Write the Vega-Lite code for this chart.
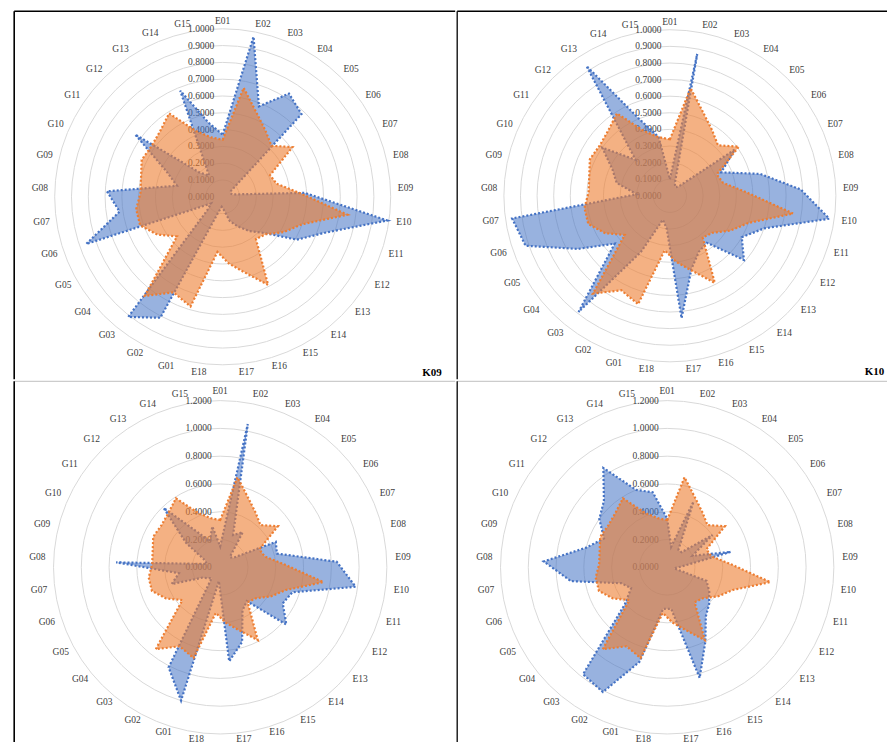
{
  "$schema": "https://vega.github.io/schema/vega-lite/v6.json",
  "padding": {"left": 13.2, "top": 10.3, "right": 0, "bottom": 0},
  "config": {"view": {"stroke": null}, "concat": {"spacing": 0}},
  "datasets": {
    "ringsTop": [{"ring":0},{"ring":0.1},{"ring":0.2},{"ring":0.3},{"ring":0.4},{"ring":0.5},{"ring":0.6},{"ring":0.7},{"ring":0.8},{"ring":0.9},{"ring":1.0}],
    "ringsBottom": [{"ring":0},{"ring":0.2},{"ring":0.4},{"ring":0.6},{"ring":0.8},{"ring":1.0},{"ring":1.2}],
    "panels": [{"panel":"K09"},{"panel":"K10"},{"panel":"K11"},{"panel":"K12"}],
    "scores": [
      {"panel":"K09","item":"E01","score":0.37,"benchmark":0.34},
      {"panel":"K09","item":"E02","score":0.97,"benchmark":0.66},
      {"panel":"K09","item":"E03","score":0.58,"benchmark":0.54},
      {"panel":"K09","item":"E04","score":0.73,"benchmark":0.47},
      {"panel":"K09","item":"E05","score":0.68,"benchmark":0.42},
      {"panel":"K09","item":"E06","score":0.06,"benchmark":0.51},
      {"panel":"K09","item":"E07","score":0.05,"benchmark":0.31},
      {"panel":"K09","item":"E08","score":0.06,"benchmark":0.33},
      {"panel":"K09","item":"E09","score":0.49,"benchmark":0.46},
      {"panel":"K09","item":"E10","score":0.99,"benchmark":0.75},
      {"panel":"K09","item":"E11","score":0.65,"benchmark":0.50},
      {"panel":"K09","item":"E12","score":0.51,"benchmark":0.42},
      {"panel":"K09","item":"E13","score":0.33,"benchmark":0.34},
      {"panel":"K09","item":"E14","score":0.26,"benchmark":0.32},
      {"panel":"K09","item":"E15","score":0.20,"benchmark":0.59},
      {"panel":"K09","item":"E16","score":0.15,"benchmark":0.47},
      {"panel":"K09","item":"E17","score":0.08,"benchmark":0.40},
      {"panel":"K09","item":"E18","score":0.06,"benchmark":0.33},
      {"panel":"K09","item":"G01","score":0.10,"benchmark":0.68},
      {"panel":"K09","item":"G02","score":0.81,"benchmark":0.64},
      {"panel":"K09","item":"G03","score":0.91,"benchmark":0.75},
      {"panel":"K09","item":"G04","score":0.12,"benchmark":0.36},
      {"panel":"K09","item":"G05","score":0.08,"benchmark":0.45},
      {"panel":"K09","item":"G06","score":0.86,"benchmark":0.52},
      {"panel":"K09","item":"G07","score":0.62,"benchmark":0.52},
      {"panel":"K09","item":"G08","score":0.69,"benchmark":0.49},
      {"panel":"K09","item":"G09","score":0.28,"benchmark":0.50},
      {"panel":"K09","item":"G10","score":0.37,"benchmark":0.53},
      {"panel":"K09","item":"G11","score":0.64,"benchmark":0.52},
      {"panel":"K09","item":"G12","score":0.20,"benchmark":0.54},
      {"panel":"K09","item":"G13","score":0.15,"benchmark":0.59},
      {"panel":"K09","item":"G14","score":0.68,"benchmark":0.42},
      {"panel":"K09","item":"G15","score":0.45,"benchmark":0.36},

      {"panel":"K10","item":"E01","score":0.10,"benchmark":0.34},
      {"panel":"K10","item":"E02","score":0.87,"benchmark":0.66},
      {"panel":"K10","item":"E03","score":0.08,"benchmark":0.54},
      {"panel":"K10","item":"E04","score":0.06,"benchmark":0.47},
      {"panel":"K10","item":"E05","score":0.08,"benchmark":0.42},
      {"panel":"K10","item":"E06","score":0.48,"benchmark":0.51},
      {"panel":"K10","item":"E07","score":0.34,"benchmark":0.31},
      {"panel":"K10","item":"E08","score":0.56,"benchmark":0.33},
      {"panel":"K10","item":"E09","score":0.79,"benchmark":0.46},
      {"panel":"K10","item":"E10","score":0.97,"benchmark":0.75},
      {"panel":"K10","item":"E11","score":0.60,"benchmark":0.50},
      {"panel":"K10","item":"E12","score":0.50,"benchmark":0.42},
      {"panel":"K10","item":"E13","score":0.59,"benchmark":0.34},
      {"panel":"K10","item":"E14","score":0.36,"benchmark":0.32},
      {"panel":"K10","item":"E15","score":0.38,"benchmark":0.59},
      {"panel":"K10","item":"E16","score":0.46,"benchmark":0.47},
      {"panel":"K10","item":"E17","score":0.74,"benchmark":0.40},
      {"panel":"K10","item":"E18","score":0.20,"benchmark":0.33},
      {"panel":"K10","item":"G01","score":0.15,"benchmark":0.68},
      {"panel":"K10","item":"G02","score":0.38,"benchmark":0.64},
      {"panel":"K10","item":"G03","score":0.89,"benchmark":0.75},
      {"panel":"K10","item":"G04","score":0.44,"benchmark":0.36},
      {"panel":"K10","item":"G05","score":0.64,"benchmark":0.45},
      {"panel":"K10","item":"G06","score":0.92,"benchmark":0.52},
      {"panel":"K10","item":"G07","score":0.96,"benchmark":0.52},
      {"panel":"K10","item":"G08","score":0.20,"benchmark":0.49},
      {"panel":"K10","item":"G09","score":0.33,"benchmark":0.50},
      {"panel":"K10","item":"G10","score":0.38,"benchmark":0.53},
      {"panel":"K10","item":"G11","score":0.50,"benchmark":0.52},
      {"panel":"K10","item":"G12","score":0.30,"benchmark":0.54},
      {"panel":"K10","item":"G13","score":0.93,"benchmark":0.59},
      {"panel":"K10","item":"G14","score":0.50,"benchmark":0.42},
      {"panel":"K10","item":"G15","score":0.36,"benchmark":0.36},

      {"panel":"K11","item":"E01","score":0.15,"benchmark":0.34},
      {"panel":"K11","item":"E02","score":1.05,"benchmark":0.66},
      {"panel":"K11","item":"E03","score":0.25,"benchmark":0.54},
      {"panel":"K11","item":"E04","score":0.30,"benchmark":0.47},
      {"panel":"K11","item":"E05","score":0.10,"benchmark":0.42},
      {"panel":"K11","item":"E06","score":0.12,"benchmark":0.51},
      {"panel":"K11","item":"E07","score":0.44,"benchmark":0.31},
      {"panel":"K11","item":"E08","score":0.42,"benchmark":0.33},
      {"panel":"K11","item":"E09","score":0.84,"benchmark":0.46},
      {"panel":"K11","item":"E10","score":0.985,"benchmark":0.75},
      {"panel":"K11","item":"E11","score":0.55,"benchmark":0.50},
      {"panel":"K11","item":"E12","score":0.52,"benchmark":0.42},
      {"panel":"K11","item":"E13","score":0.63,"benchmark":0.34},
      {"panel":"K11","item":"E14","score":0.31,"benchmark":0.32},
      {"panel":"K11","item":"E15","score":0.35,"benchmark":0.59},
      {"panel":"K11","item":"E16","score":0.56,"benchmark":0.47},
      {"panel":"K11","item":"E17","score":0.68,"benchmark":0.40},
      {"panel":"K11","item":"E18","score":0.10,"benchmark":0.33},
      {"panel":"K11","item":"G01","score":1.00,"benchmark":0.68},
      {"panel":"K11","item":"G02","score":0.81,"benchmark":0.64},
      {"panel":"K11","item":"G03","score":0.10,"benchmark":0.75},
      {"panel":"K11","item":"G04","score":0.12,"benchmark":0.36},
      {"panel":"K11","item":"G05","score":0.15,"benchmark":0.45},
      {"panel":"K11","item":"G06","score":0.37,"benchmark":0.52},
      {"panel":"K11","item":"G07","score":0.30,"benchmark":0.52},
      {"panel":"K11","item":"G08","score":0.75,"benchmark":0.49},
      {"panel":"K11","item":"G09","score":0.10,"benchmark":0.50},
      {"panel":"K11","item":"G10","score":0.12,"benchmark":0.53},
      {"panel":"K11","item":"G11","score":0.30,"benchmark":0.52},
      {"panel":"K11","item":"G12","score":0.59,"benchmark":0.54},
      {"panel":"K11","item":"G13","score":0.30,"benchmark":0.59},
      {"panel":"K11","item":"G14","score":0.20,"benchmark":0.42},
      {"panel":"K11","item":"G15","score":0.30,"benchmark":0.36},

      {"panel":"K12","item":"E01","score":0.35,"benchmark":0.34},
      {"panel":"K12","item":"E02","score":0.15,"benchmark":0.66},
      {"panel":"K12","item":"E03","score":0.51,"benchmark":0.54},
      {"panel":"K12","item":"E04","score":0.15,"benchmark":0.47},
      {"panel":"K12","item":"E05","score":0.15,"benchmark":0.42},
      {"panel":"K12","item":"E06","score":0.40,"benchmark":0.51},
      {"panel":"K12","item":"E07","score":0.20,"benchmark":0.31},
      {"panel":"K12","item":"E08","score":0.47,"benchmark":0.33},
      {"panel":"K12","item":"E09","score":0.10,"benchmark":0.46},
      {"panel":"K12","item":"E10","score":0.05,"benchmark":0.75},
      {"panel":"K12","item":"E11","score":0.30,"benchmark":0.50},
      {"panel":"K12","item":"E12","score":0.35,"benchmark":0.42},
      {"panel":"K12","item":"E13","score":0.40,"benchmark":0.34},
      {"panel":"K12","item":"E14","score":0.45,"benchmark":0.32},
      {"panel":"K12","item":"E15","score":0.60,"benchmark":0.59},
      {"panel":"K12","item":"E16","score":0.83,"benchmark":0.47},
      {"panel":"K12","item":"E17","score":0.30,"benchmark":0.40},
      {"panel":"K12","item":"E18","score":0.30,"benchmark":0.33},
      {"panel":"K12","item":"G01","score":0.71,"benchmark":0.68},
      {"panel":"K12","item":"G02","score":1.01,"benchmark":0.64},
      {"panel":"K12","item":"G03","score":0.98,"benchmark":0.75},
      {"panel":"K12","item":"G04","score":0.40,"benchmark":0.36},
      {"panel":"K12","item":"G05","score":0.30,"benchmark":0.45},
      {"panel":"K12","item":"G06","score":0.35,"benchmark":0.52},
      {"panel":"K12","item":"G07","score":0.70,"benchmark":0.52},
      {"panel":"K12","item":"G08","score":0.89,"benchmark":0.49},
      {"panel":"K12","item":"G09","score":0.60,"benchmark":0.50},
      {"panel":"K12","item":"G10","score":0.50,"benchmark":0.53},
      {"panel":"K12","item":"G11","score":0.60,"benchmark":0.52},
      {"panel":"K12","item":"G12","score":0.66,"benchmark":0.54},
      {"panel":"K12","item":"G13","score":0.85,"benchmark":0.59},
      {"panel":"K12","item":"G14","score":0.60,"benchmark":0.42},
      {"panel":"K12","item":"G15","score":0.55,"benchmark":0.36}
    ]
  },
  "vconcat": [
    {
      "hconcat": [
        {
          "width": 441, "height": 368,
          "layer": [
            {
              "data": {"name": "ringsTop"},
              "mark": {"type": "point", "shape": "circle", "filled": false, "stroke": "#D9D9D9", "strokeWidth": 1, "opacity": 1},
              "encoding": {
                "x": {"datum": 0, "type": "quantitative", "scale": {"domain": [-1.24107, 1.38393], "nice": false, "zero": false}, "axis": null},
                "y": {"datum": 0, "type": "quantitative", "scale": {"domain": [-1.08631, 1.10417], "nice": false, "zero": false}, "axis": null},
                "size": {"field": "ring", "type": "quantitative", "scale": {"type": "pow", "exponent": 2, "domain": [0, 1], "range": [0, 112896]}, "legend": null}
              }
            },
            {
              "data": {"name": "ringsTop"},
              "mark": {"type": "text", "align": "right", "baseline": "middle", "dx": -8.5, "font": "Liberation Serif", "fontSize": 9.5, "fill": "#404040"},
              "encoding": {
                "x": {"datum": 0, "type": "quantitative"},
                "y": {"field": "ring", "type": "quantitative"},
                "text": {"field": "ring", "type": "quantitative", "format": ".4f"}
              }
            },
            {
              "data": {"name": "scores"},
              "transform": [
                {"filter": "datum.panel === 'K09'"},
                {"calculate": "indexof(['E01','E02','E03','E04','E05','E06','E07','E08','E09','E10','E11','E12','E13','E14','E15','E16','E17','E18','G01','G02','G03','G04','G05','G06','G07','G08','G09','G10','G11','G12','G13','G14','G15'], datum.item)", "as": "idx"},
                {"calculate": "datum.idx * 2 * PI / 33", "as": "theta"},
                {"calculate": "datum.score * sin(datum.theta)", "as": "px"},
                {"calculate": "datum.score * cos(datum.theta)", "as": "py"}
              ],
              "mark": {"type": "line", "interpolate": "linear-closed", "stroke": "#4472C4", "strokeWidth": 2.2, "strokeDash": [2, 2], "fill": "#4472C4", "fillOpacity": 0.55},
              "encoding": {
                "x": {"field": "px", "type": "quantitative"},
                "y": {"field": "py", "type": "quantitative"},
                "order": {"field": "idx", "type": "quantitative"}
              }
            },
            {
              "data": {"name": "scores"},
              "transform": [
                {"filter": "datum.panel === 'K09'"},
                {"calculate": "indexof(['E01','E02','E03','E04','E05','E06','E07','E08','E09','E10','E11','E12','E13','E14','E15','E16','E17','E18','G01','G02','G03','G04','G05','G06','G07','G08','G09','G10','G11','G12','G13','G14','G15'], datum.item)", "as": "idx"},
                {"calculate": "datum.idx * 2 * PI / 33", "as": "theta"},
                {"calculate": "datum.benchmark * sin(datum.theta)", "as": "px"},
                {"calculate": "datum.benchmark * cos(datum.theta)", "as": "py"}
              ],
              "mark": {"type": "line", "interpolate": "linear-closed", "stroke": "#ED7D31", "strokeWidth": 2.2, "strokeDash": [2, 2], "fill": "#ED7D31", "fillOpacity": 0.6},
              "encoding": {
                "x": {"field": "px", "type": "quantitative"},
                "y": {"field": "py", "type": "quantitative"},
                "order": {"field": "idx", "type": "quantitative"}
              }
            },
            {
              "data": {"name": "scores"},
              "transform": [
                {"filter": "datum.panel === 'K09'"},
                {"calculate": "indexof(['E01','E02','E03','E04','E05','E06','E07','E08','E09','E10','E11','E12','E13','E14','E15','E16','E17','E18','G01','G02','G03','G04','G05','G06','G07','G08','G09','G10','G11','G12','G13','G14','G15'], datum.item)", "as": "idx"},
                {"calculate": "datum.idx * 2 * PI / 33", "as": "theta"},
                {"calculate": "1.0476 * sin(datum.theta) + 0.0417 * (sin(datum.theta) > 0.01 ? 1 : (sin(datum.theta) < -0.01 ? -1 : 0))", "as": "lx"},
                {"calculate": "1.0476 * cos(datum.theta)", "as": "ly"}
              ],
              "mark": {"type": "text", "font": "Liberation Serif", "fontSize": 9.5, "fill": "#404040", "baseline": "middle"},
              "encoding": {
                "x": {"field": "lx", "type": "quantitative"},
                "y": {"field": "ly", "type": "quantitative"},
                "text": {"field": "item"}
              }
            },
            {
              "data": {"name": "panels"},
              "transform": [{"filter": "datum.panel === 'K09'"}],
              "mark": {"type": "rule", "stroke": "#000000", "strokeWidth": 1.4},
              "encoding": {
                "x": {"datum": -1.24107, "type": "quantitative"},
                "x2": {"datum": 1.38393},
                "y": {"datum": 1.10417, "type": "quantitative"}
              }
            },
            {
              "data": {"name": "panels"},
              "transform": [{"filter": "datum.panel === 'K09'"}],
              "mark": {"type": "rule", "stroke": "#000000", "strokeWidth": 1.6},
              "encoding": {
                "x": {"datum": -1.24107, "type": "quantitative"},
                "y": {"datum": -1.08631, "type": "quantitative"},
                "y2": {"datum": 1.10417}
              }
            },
            {
              "data": {"name": "panels"},
              "transform": [{"filter": "datum.panel === 'K09'"}],
              "mark": {"type": "text", "align": "right", "baseline": "alphabetic", "dx": -13.5, "dy": -3, "font": "Liberation Serif", "fontSize": 11, "fontWeight": "bold", "fill": "#000000"},
              "encoding": {
                "x": {"datum": 1.38393, "type": "quantitative"},
                "y": {"datum": -1.08631, "type": "quantitative"},
                "text": {"field": "panel"}
              }
            }
          ]
        },
        {
          "width": 432, "height": 368,
          "layer": [
            {
              "data": {"name": "ringsTop"},
              "mark": {"type": "point", "shape": "circle", "filled": false, "stroke": "#D9D9D9", "strokeWidth": 1, "opacity": 1},
              "encoding": {
                "x": {"datum": 0, "type": "quantitative", "scale": {"domain": [-1.28133, 1.32108], "nice": false, "zero": false}, "axis": null},
                "y": {"datum": 0, "type": "quantitative", "scale": {"domain": [-1.10542, 1.11145], "nice": false, "zero": false}, "axis": null},
                "size": {"field": "ring", "type": "quantitative", "scale": {"type": "pow", "exponent": 2, "domain": [0, 1], "range": [0, 110224]}, "legend": null}
              }
            },
            {
              "data": {"name": "ringsTop"},
              "mark": {"type": "text", "align": "right", "baseline": "middle", "dx": -8.5, "font": "Liberation Serif", "fontSize": 9.5, "fill": "#404040"},
              "encoding": {
                "x": {"datum": 0, "type": "quantitative"},
                "y": {"field": "ring", "type": "quantitative"},
                "text": {"field": "ring", "type": "quantitative", "format": ".4f"}
              }
            },
            {
              "data": {"name": "scores"},
              "transform": [
                {"filter": "datum.panel === 'K10'"},
                {"calculate": "indexof(['E01','E02','E03','E04','E05','E06','E07','E08','E09','E10','E11','E12','E13','E14','E15','E16','E17','E18','G01','G02','G03','G04','G05','G06','G07','G08','G09','G10','G11','G12','G13','G14','G15'], datum.item)", "as": "idx"},
                {"calculate": "datum.idx * 2 * PI / 33", "as": "theta"},
                {"calculate": "datum.score * sin(datum.theta)", "as": "px"},
                {"calculate": "datum.score * cos(datum.theta)", "as": "py"}
              ],
              "mark": {"type": "line", "interpolate": "linear-closed", "stroke": "#4472C4", "strokeWidth": 2.2, "strokeDash": [2, 2], "fill": "#4472C4", "fillOpacity": 0.55},
              "encoding": {
                "x": {"field": "px", "type": "quantitative"},
                "y": {"field": "py", "type": "quantitative"},
                "order": {"field": "idx", "type": "quantitative"}
              }
            },
            {
              "data": {"name": "scores"},
              "transform": [
                {"filter": "datum.panel === 'K10'"},
                {"calculate": "indexof(['E01','E02','E03','E04','E05','E06','E07','E08','E09','E10','E11','E12','E13','E14','E15','E16','E17','E18','G01','G02','G03','G04','G05','G06','G07','G08','G09','G10','G11','G12','G13','G14','G15'], datum.item)", "as": "idx"},
                {"calculate": "datum.idx * 2 * PI / 33", "as": "theta"},
                {"calculate": "datum.benchmark * sin(datum.theta)", "as": "px"},
                {"calculate": "datum.benchmark * cos(datum.theta)", "as": "py"}
              ],
              "mark": {"type": "line", "interpolate": "linear-closed", "stroke": "#ED7D31", "strokeWidth": 2.2, "strokeDash": [2, 2], "fill": "#ED7D31", "fillOpacity": 0.6},
              "encoding": {
                "x": {"field": "px", "type": "quantitative"},
                "y": {"field": "py", "type": "quantitative"},
                "order": {"field": "idx", "type": "quantitative"}
              }
            },
            {
              "data": {"name": "scores"},
              "transform": [
                {"filter": "datum.panel === 'K10'"},
                {"calculate": "indexof(['E01','E02','E03','E04','E05','E06','E07','E08','E09','E10','E11','E12','E13','E14','E15','E16','E17','E18','G01','G02','G03','G04','G05','G06','G07','G08','G09','G10','G11','G12','G13','G14','G15'], datum.item)", "as": "idx"},
                {"calculate": "datum.idx * 2 * PI / 33", "as": "theta"},
                {"calculate": "1.0482 * sin(datum.theta) + 0.0422 * (sin(datum.theta) > 0.01 ? 1 : (sin(datum.theta) < -0.01 ? -1 : 0))", "as": "lx"},
                {"calculate": "1.0482 * cos(datum.theta)", "as": "ly"}
              ],
              "mark": {"type": "text", "font": "Liberation Serif", "fontSize": 9.5, "fill": "#404040", "baseline": "middle"},
              "encoding": {
                "x": {"field": "lx", "type": "quantitative"},
                "y": {"field": "ly", "type": "quantitative"},
                "text": {"field": "item"}
              }
            },
            {
              "data": {"name": "panels"},
              "transform": [{"filter": "datum.panel === 'K10'"}],
              "mark": {"type": "rule", "stroke": "#000000", "strokeWidth": 1.4},
              "encoding": {
                "x": {"datum": -1.28133, "type": "quantitative"},
                "x2": {"datum": 1.32108},
                "y": {"datum": 1.11145, "type": "quantitative"}
              }
            },
            {
              "data": {"name": "panels"},
              "transform": [{"filter": "datum.panel === 'K10'"}],
              "mark": {"type": "rule", "stroke": "#000000", "strokeWidth": 1.3},
              "encoding": {
                "x": {"datum": -1.28133, "type": "quantitative"},
                "y": {"datum": -1.10542, "type": "quantitative"},
                "y2": {"datum": 1.11145}
              }
            },
            {
              "data": {"name": "panels"},
              "transform": [{"filter": "datum.panel === 'K10'"}],
              "mark": {"type": "text", "align": "right", "baseline": "alphabetic", "dx": -5, "dy": -4, "font": "Liberation Serif", "fontSize": 11, "fontWeight": "bold", "fill": "#000000"},
              "encoding": {
                "x": {"datum": 1.32108, "type": "quantitative"},
                "y": {"datum": -1.10542, "type": "quantitative"},
                "text": {"field": "panel"}
              }
            }
          ]
        }
      ],
      "resolve": {"scale": {"x": "independent", "y": "independent", "size": "independent"}}
    },
    {
      "hconcat": [
        {
          "width": 441, "height": 363,
          "layer": [
            {
              "data": {"name": "ringsBottom"},
              "mark": {"type": "point", "shape": "circle", "filled": false, "stroke": "#D9D9D9", "strokeWidth": 1, "opacity": 1},
              "encoding": {
                "x": {"datum": 0, "type": "quantitative", "scale": {"domain": [-1.48308, 1.69186], "nice": false, "zero": false}, "axis": null},
                "y": {"datum": 0, "type": "quantitative", "scale": {"domain": [-1.2743, 1.33909], "nice": false, "zero": false}, "axis": null},
                "size": {"field": "ring", "type": "quantitative", "scale": {"type": "pow", "exponent": 2, "domain": [0, 1.2], "range": [0, 111129]}, "legend": null}
              }
            },
            {
              "data": {"name": "ringsBottom"},
              "mark": {"type": "text", "align": "right", "baseline": "middle", "dx": -8.5, "font": "Liberation Serif", "fontSize": 9.5, "fill": "#404040"},
              "encoding": {
                "x": {"datum": 0, "type": "quantitative"},
                "y": {"field": "ring", "type": "quantitative"},
                "text": {"field": "ring", "type": "quantitative", "format": ".4f"}
              }
            },
            {
              "data": {"name": "scores"},
              "transform": [
                {"filter": "datum.panel === 'K11'"},
                {"calculate": "indexof(['E01','E02','E03','E04','E05','E06','E07','E08','E09','E10','E11','E12','E13','E14','E15','E16','E17','E18','G01','G02','G03','G04','G05','G06','G07','G08','G09','G10','G11','G12','G13','G14','G15'], datum.item)", "as": "idx"},
                {"calculate": "datum.idx * 2 * PI / 33", "as": "theta"},
                {"calculate": "datum.score * sin(datum.theta)", "as": "px"},
                {"calculate": "datum.score * cos(datum.theta)", "as": "py"}
              ],
              "mark": {"type": "line", "interpolate": "linear-closed", "stroke": "#4472C4", "strokeWidth": 2.2, "strokeDash": [2, 2], "fill": "#4472C4", "fillOpacity": 0.55},
              "encoding": {
                "x": {"field": "px", "type": "quantitative"},
                "y": {"field": "py", "type": "quantitative"},
                "order": {"field": "idx", "type": "quantitative"}
              }
            },
            {
              "data": {"name": "scores"},
              "transform": [
                {"filter": "datum.panel === 'K11'"},
                {"calculate": "indexof(['E01','E02','E03','E04','E05','E06','E07','E08','E09','E10','E11','E12','E13','E14','E15','E16','E17','E18','G01','G02','G03','G04','G05','G06','G07','G08','G09','G10','G11','G12','G13','G14','G15'], datum.item)", "as": "idx"},
                {"calculate": "datum.idx * 2 * PI / 33", "as": "theta"},
                {"calculate": "datum.benchmark * sin(datum.theta)", "as": "px"},
                {"calculate": "datum.benchmark * cos(datum.theta)", "as": "py"}
              ],
              "mark": {"type": "line", "interpolate": "linear-closed", "stroke": "#ED7D31", "strokeWidth": 2.2, "strokeDash": [2, 2], "fill": "#ED7D31", "fillOpacity": 0.6},
              "encoding": {
                "x": {"field": "px", "type": "quantitative"},
                "y": {"field": "py", "type": "quantitative"},
                "order": {"field": "idx", "type": "quantitative"}
              }
            },
            {
              "data": {"name": "scores"},
              "transform": [
                {"filter": "datum.panel === 'K11'"},
                {"calculate": "indexof(['E01','E02','E03','E04','E05','E06','E07','E08','E09','E10','E11','E12','E13','E14','E15','E16','E17','E18','G01','G02','G03','G04','G05','G06','G07','G08','G09','G10','G11','G12','G13','G14','G15'], datum.item)", "as": "idx"},
                {"calculate": "datum.idx * 2 * PI / 33", "as": "theta"},
                {"calculate": "1.2671 * sin(datum.theta) + 0.0504 * (sin(datum.theta) > 0.01 ? 1 : (sin(datum.theta) < -0.01 ? -1 : 0))", "as": "lx"},
                {"calculate": "1.2527 * cos(datum.theta) + 0.0144", "as": "ly"}
              ],
              "mark": {"type": "text", "font": "Liberation Serif", "fontSize": 9.5, "fill": "#404040", "baseline": "middle"},
              "encoding": {
                "x": {"field": "lx", "type": "quantitative"},
                "y": {"field": "ly", "type": "quantitative"},
                "text": {"field": "item"}
              }
            },
            {
              "data": {"name": "panels"},
              "transform": [{"filter": "datum.panel === 'K11'"}],
              "mark": {"type": "rule", "stroke": "#BFBFBF", "strokeWidth": 1},
              "encoding": {
                "x": {"datum": -1.48308, "type": "quantitative"},
                "x2": {"datum": 1.69186},
                "y": {"datum": 1.33909, "type": "quantitative"}
              }
            },
            {
              "data": {"name": "panels"},
              "transform": [{"filter": "datum.panel === 'K11'"}],
              "mark": {"type": "rule", "stroke": "#000000", "strokeWidth": 1.6},
              "encoding": {
                "x": {"datum": -1.48308, "type": "quantitative"},
                "y": {"datum": -1.2743, "type": "quantitative"},
                "y2": {"datum": 1.33909}
              }
            },
            {
              "data": {"name": "panels"},
              "transform": [{"filter": "datum.panel === 'K11'"}],
              "mark": {"type": "text", "align": "right", "baseline": "alphabetic", "dx": -23, "dy": 5, "clip": true, "font": "Liberation Serif", "fontSize": 11, "fontWeight": "bold", "fill": "#000000"},
              "encoding": {
                "x": {"datum": 1.69186, "type": "quantitative"},
                "y": {"datum": -1.2743, "type": "quantitative"},
                "text": {"field": "panel"}
              }
            }
          ]
        },
        {
          "width": 432, "height": 363,
          "layer": [
            {
              "data": {"name": "ringsBottom"},
              "mark": {"type": "point", "shape": "circle", "filled": false, "stroke": "#D9D9D9", "strokeWidth": 1, "opacity": 1},
              "encoding": {
                "x": {"datum": 0, "type": "quantitative", "scale": {"domain": [-1.51188, 1.59827], "nice": false, "zero": false}, "axis": null},
                "y": {"datum": 0, "type": "quantitative", "scale": {"domain": [-1.2743, 1.33909], "nice": false, "zero": false}, "axis": null},
                "size": {"field": "ring", "type": "quantitative", "scale": {"type": "pow", "exponent": 2, "domain": [0, 1.2], "range": [0, 111129]}, "legend": null}
              }
            },
            {
              "data": {"name": "ringsBottom"},
              "mark": {"type": "text", "align": "right", "baseline": "middle", "dx": -8.5, "font": "Liberation Serif", "fontSize": 9.5, "fill": "#404040"},
              "encoding": {
                "x": {"datum": 0, "type": "quantitative"},
                "y": {"field": "ring", "type": "quantitative"},
                "text": {"field": "ring", "type": "quantitative", "format": ".4f"}
              }
            },
            {
              "data": {"name": "scores"},
              "transform": [
                {"filter": "datum.panel === 'K12'"},
                {"calculate": "indexof(['E01','E02','E03','E04','E05','E06','E07','E08','E09','E10','E11','E12','E13','E14','E15','E16','E17','E18','G01','G02','G03','G04','G05','G06','G07','G08','G09','G10','G11','G12','G13','G14','G15'], datum.item)", "as": "idx"},
                {"calculate": "datum.idx * 2 * PI / 33", "as": "theta"},
                {"calculate": "datum.score * sin(datum.theta)", "as": "px"},
                {"calculate": "datum.score * cos(datum.theta)", "as": "py"}
              ],
              "mark": {"type": "line", "interpolate": "linear-closed", "stroke": "#4472C4", "strokeWidth": 2.2, "strokeDash": [2, 2], "fill": "#4472C4", "fillOpacity": 0.55},
              "encoding": {
                "x": {"field": "px", "type": "quantitative"},
                "y": {"field": "py", "type": "quantitative"},
                "order": {"field": "idx", "type": "quantitative"}
              }
            },
            {
              "data": {"name": "scores"},
              "transform": [
                {"filter": "datum.panel === 'K12'"},
                {"calculate": "indexof(['E01','E02','E03','E04','E05','E06','E07','E08','E09','E10','E11','E12','E13','E14','E15','E16','E17','E18','G01','G02','G03','G04','G05','G06','G07','G08','G09','G10','G11','G12','G13','G14','G15'], datum.item)", "as": "idx"},
                {"calculate": "datum.idx * 2 * PI / 33", "as": "theta"},
                {"calculate": "datum.benchmark * sin(datum.theta)", "as": "px"},
                {"calculate": "datum.benchmark * cos(datum.theta)", "as": "py"}
              ],
              "mark": {"type": "line", "interpolate": "linear-closed", "stroke": "#ED7D31", "strokeWidth": 2.2, "strokeDash": [2, 2], "fill": "#ED7D31", "fillOpacity": 0.6},
              "encoding": {
                "x": {"field": "px", "type": "quantitative"},
                "y": {"field": "py", "type": "quantitative"},
                "order": {"field": "idx", "type": "quantitative"}
              }
            },
            {
              "data": {"name": "scores"},
              "transform": [
                {"filter": "datum.panel === 'K12'"},
                {"calculate": "indexof(['E01','E02','E03','E04','E05','E06','E07','E08','E09','E10','E11','E12','E13','E14','E15','E16','E17','E18','G01','G02','G03','G04','G05','G06','G07','G08','G09','G10','G11','G12','G13','G14','G15'], datum.item)", "as": "idx"},
                {"calculate": "datum.idx * 2 * PI / 33", "as": "theta"},
                {"calculate": "1.2671 * sin(datum.theta) + 0.0504 * (sin(datum.theta) > 0.01 ? 1 : (sin(datum.theta) < -0.01 ? -1 : 0))", "as": "lx"},
                {"calculate": "1.2527 * cos(datum.theta) + 0.0144", "as": "ly"}
              ],
              "mark": {"type": "text", "font": "Liberation Serif", "fontSize": 9.5, "fill": "#404040", "baseline": "middle"},
              "encoding": {
                "x": {"field": "lx", "type": "quantitative"},
                "y": {"field": "ly", "type": "quantitative"},
                "text": {"field": "item"}
              }
            },
            {
              "data": {"name": "panels"},
              "transform": [{"filter": "datum.panel === 'K12'"}],
              "mark": {"type": "rule", "stroke": "#BFBFBF", "strokeWidth": 1},
              "encoding": {
                "x": {"datum": -1.51188, "type": "quantitative"},
                "x2": {"datum": 1.59827},
                "y": {"datum": 1.33909, "type": "quantitative"}
              }
            },
            {
              "data": {"name": "panels"},
              "transform": [{"filter": "datum.panel === 'K12'"}],
              "mark": {"type": "rule", "stroke": "#000000", "strokeWidth": 1.3},
              "encoding": {
                "x": {"datum": -1.51188, "type": "quantitative"},
                "y": {"datum": -1.2743, "type": "quantitative"},
                "y2": {"datum": 1.33909}
              }
            },
            {
              "data": {"name": "panels"},
              "transform": [{"filter": "datum.panel === 'K12'"}],
              "mark": {"type": "text", "align": "right", "baseline": "alphabetic", "dx": -7, "dy": 5, "clip": true, "font": "Liberation Serif", "fontSize": 11, "fontWeight": "bold", "fill": "#000000"},
              "encoding": {
                "x": {"datum": 1.59827, "type": "quantitative"},
                "y": {"datum": -1.2743, "type": "quantitative"},
                "text": {"field": "panel"}
              }
            }
          ]
        }
      ],
      "resolve": {"scale": {"x": "independent", "y": "independent", "size": "independent"}}
    }
  ],
  "resolve": {"scale": {"x": "independent", "y": "independent", "size": "independent"}}
}
